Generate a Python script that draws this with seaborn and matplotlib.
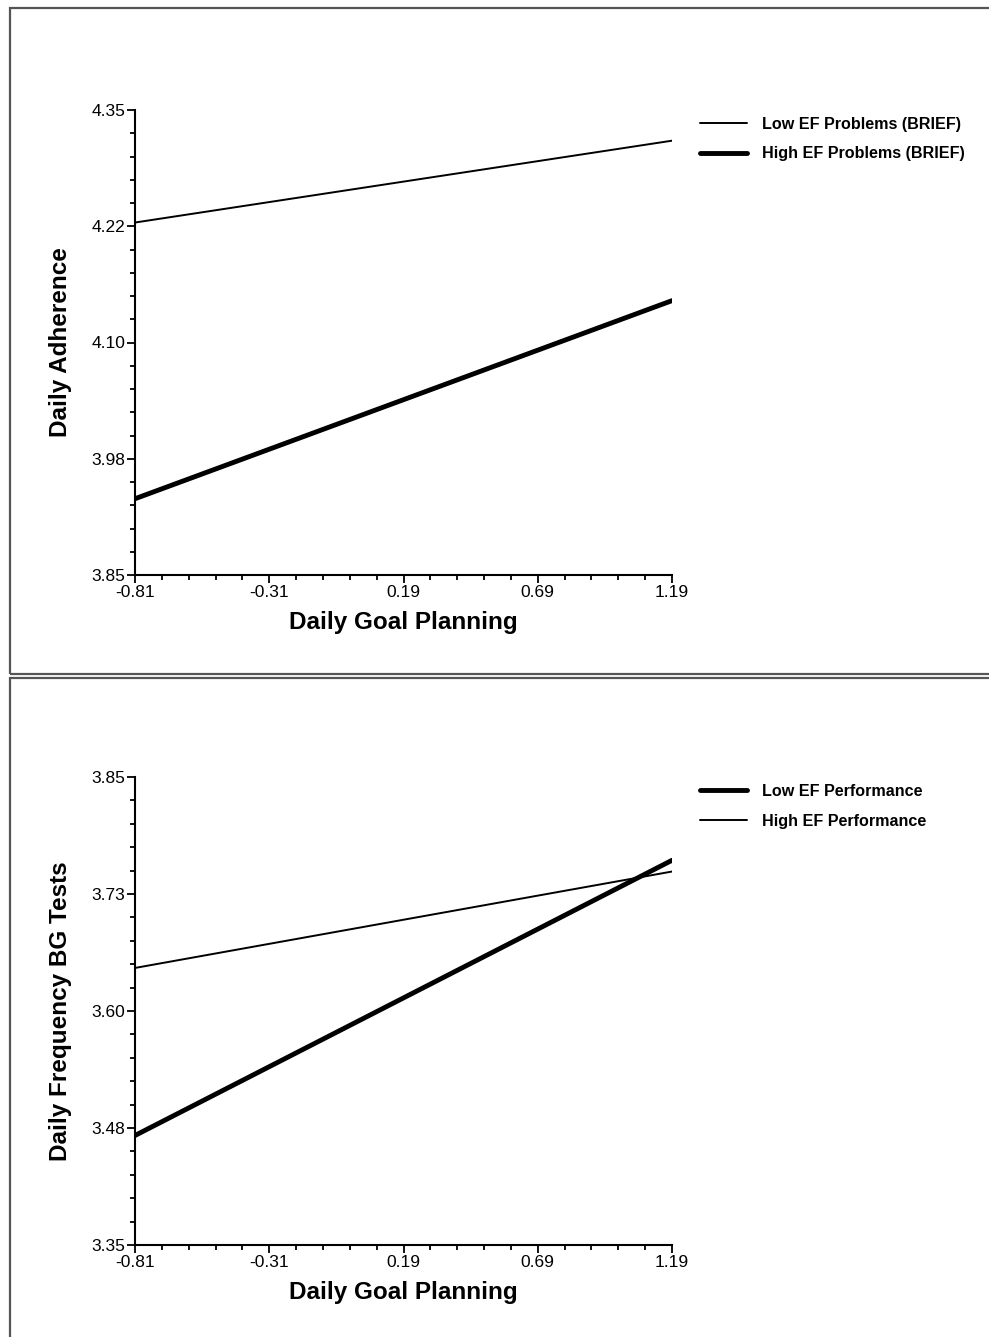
import pandas as pd
import matplotlib.pyplot as plt
import seaborn as sns
from matplotlib.patches import Rectangle
from matplotlib.ticker import MultipleLocator, FixedLocator

# x endpoints (Daily Goal Planning)
x_vals = [-0.81, 1.19]
x_ticks = [-0.81, -0.31, 0.19, 0.69, 1.19]

# top panel: Daily Adherence
top_low = [4.229, 4.317]    # Low EF Problems (BRIEF)
top_high = [3.932, 4.145]   # High EF Problems (BRIEF)
top_ticks = [3.85, 3.975, 4.10, 4.225, 4.35]
top_ticklabels = ['3.85', '3.98', '4.10', '4.22', '4.35']

# bottom panel: Daily Frequency BG Tests
bot_low = [3.467, 3.761]    # Low EF Performance
bot_high = [3.646, 3.749]   # High EF Performance
bot_ticks = [3.35, 3.475, 3.60, 3.725, 3.85]
bot_ticklabels = ['3.35', '3.48', '3.60', '3.73', '3.85']

sns.set_style('white')
plt.rcParams['font.family'] = ['Liberation Sans', 'DejaVu Sans']
plt.rcParams['text.color'] = 'black'
plt.rcParams['axes.labelcolor'] = 'black'

fig = plt.figure(figsize=(9.89, 13.37), dpi=100)
W, H = 989, 1337

# panel frames
for y0, y1 in [(8, 674), (678, 1345)]:
    fig.patches.append(Rectangle((10 / W, 1 - y1 / H), (1000 - 10) / W, (y1 - y0) / H,
                                 transform=fig.transFigure, fill=False,
                                 edgecolor='#555555', linewidth=1.6))


def panel(top_px, bottom_px, series, ylabel, yticks, yticklabels):
    ax = fig.add_axes([135 / W, 1 - bottom_px / H, (672 - 135) / W, (bottom_px - top_px) / H])
    rows = []
    for name, vals, lw in series:
        for x, y in zip(x_vals, vals):
            rows.append({'x': x, 'y': y, 'group': name})
    df = pd.DataFrame(rows)
    handles = []
    for name, vals, lw in series:
        sub = df[df['group'] == name]
        sns.lineplot(data=sub, x='x', y='y', ax=ax, color='black', linewidth=lw)
        handles.append(plt.Line2D([], [], color='black', linewidth=lw))
    ax.set_xlim(x_vals[0], x_vals[1])
    ax.set_ylim(yticks[0], yticks[-1])
    ax.xaxis.set_major_locator(FixedLocator(x_ticks))
    ax.xaxis.set_minor_locator(MultipleLocator(0.1, offset=0.09))
    ax.set_xticklabels([f'{t:.2f}' for t in x_ticks])
    ax.yaxis.set_major_locator(FixedLocator(yticks))
    ax.yaxis.set_minor_locator(MultipleLocator(0.025))
    ax.set_yticklabels(yticklabels)
    for s in ['top', 'right']:
        ax.spines[s].set_visible(False)
    for s in ['left', 'bottom']:
        ax.spines[s].set_color('black')
        ax.spines[s].set_linewidth(1.5)
    ax.tick_params(which='major', direction='out', length=6, width=1.3, colors='black',
                   labelsize=12.5, pad=1, bottom=True, left=True)
    ax.tick_params(which='minor', direction='out', length=3.5, width=1.3, colors='black',
                   bottom=True, left=True)
    ax.set_xlabel('Daily Goal Planning', fontsize=17.5, fontweight='bold', labelpad=8)
    ax.set_ylabel(ylabel, fontsize=17.5, fontweight='bold', labelpad=14)
    ax.legend(handles, [s[0] for s in series], loc='upper left',
              bbox_to_anchor=(1.052, 0.985), frameon=False, handlelength=2.9,
              handletextpad=0.95, labelspacing=0.9, borderaxespad=0, borderpad=0,
              prop={'weight': 'bold', 'size': 11.6})
    return ax


panel(110, 575,
      [('Low EF Problems (BRIEF)', top_low, 1.4),
       ('High EF Problems (BRIEF)', top_high, 3.5)],
      'Daily Adherence', top_ticks, top_ticklabels)

panel(777, 1245,
      [('Low EF Performance', bot_low, 3.5),
       ('High EF Performance', bot_high, 1.4)],
      'Daily Frequency BG Tests', bot_ticks, bot_ticklabels)

fig.savefig('out.png', dpi=100)
